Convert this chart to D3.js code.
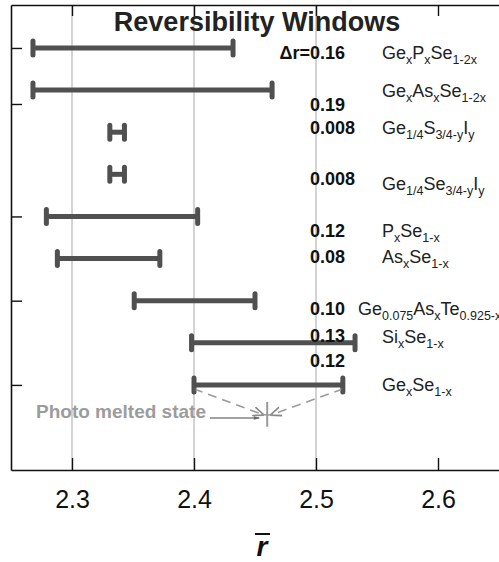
<!DOCTYPE html>
<html>
<head>
<meta charset="utf-8">
<script src="https://cdn.jsdelivr.net/npm/d3@7"></script>
<style>
  body { margin: 0; background: #fff; }
  svg { display: block; font-family: "Liberation Sans", Arial, sans-serif; }
</style>
</head>
<body>
<svg id="chart" width="499" height="562"></svg>
<script>
// reversibility windows, r-bar start / end for each glass system (top to bottom)
const systems = ["Ge_{x}P_{x}Se_{1-2x}", "Ge_{x}As_{x}Se_{1-2x}", "Ge_{1/4}S_{3/4-y}I_{y}",
  "Ge_{1/4}Se_{3/4-y}I_{y}", "P_{x}Se_{1-x}", "As_{x}Se_{1-x}",
  "Ge_{0.075}As_{x}Te_{0.925-x}", "Si_{x}Se_{1-x}", "Ge_{x}Se_{1-x}"];
const rStart = [2.268, 2.268, 2.331, 2.331, 2.279, 2.288, 2.351, 2.398, 2.400];
const rEnd   = [2.432, 2.464, 2.343, 2.343, 2.403, 2.372, 2.450, 2.532, 2.522];
const widths = ["0.16", "0.19", "0.008", "0.008", "0.12", "0.08", "0.10", "0.13", "0.12"];
const xTicks = [2.3, 2.4, 2.5, 2.6];
const gridVals = [2.3, 2.4, 2.5];
const yTicks = [0, 1.33, 4, 6, 8];
const photoMelted = 2.46;

// label placement (row units) - the original figure is hand-laid out
const numRow  = [0.26, 1.5, 2.04, 3.25, 4.49, 5.1, 6.34, 6.98, 7.57];
const formRow = [0.26, 1.16, 2.04, 3.37, 4.49, 5.1, 6.34, 7.0, 8.14];
const formX   = [382, 382, 382, 382, 382, 382, 358, 382, 382];

const svg = d3.select('#chart');
const W = 499, mLeft = 11, mTop = 5, mBottom = 470;

const x = d3.scaleLinear().domain([2.25, 2.65]).range([mLeft, W]);
const y = d3.scaleLinear().domain([-1.02, 10.02]).range([mTop, mBottom]);

// grid
svg.append('g').selectAll('line').data(gridVals).join('line')
  .attr('x1', d => x(d)).attr('x2', d => x(d))
  .attr('y1', mTop).attr('y2', mBottom)
  .attr('stroke', '#a8a8a8').attr('stroke-width', 1);

// axes
const gx = svg.append('g').attr('transform', `translate(0,${mBottom})`)
  .call(d3.axisBottom(x).tickValues(xTicks).tickSize(-12).tickSizeOuter(0).tickPadding(20).tickFormat(d3.format('.1f')));
gx.selectAll('text').attr('font-size', 25).attr('fill', '#111');
gx.attr('font-family', null);

const gt = svg.append('g').attr('transform', `translate(0,${mTop})`)
  .call(d3.axisTop(x).tickValues(xTicks).tickSize(-11).tickSizeOuter(0).tickFormat(''));

const gy = svg.append('g').attr('transform', `translate(${mLeft},0)`)
  .call(d3.axisLeft(y).tickValues(yTicks).tickSize(-11).tickSizeOuter(0).tickFormat(''));

[gx, gt, gy].forEach(g => {
  g.select('.domain').attr('stroke', '#111').attr('stroke-width', 1.6);
  g.selectAll('.tick line').attr('stroke', '#111').attr('stroke-width', 1.4);
});

// title
svg.append('text').attr('x', 257).attr('y', 31).attr('text-anchor', 'middle')
  .attr('font-size', 27).attr('font-weight', 'bold').attr('fill', '#222')
  .text('Reversibility Windows');

// window bars
const rows = d3.range(systems.length);
const bars = svg.append('g').attr('stroke', '#505050').attr('stroke-linecap', 'round');
bars.selectAll('line.bar').data(rows).join('line').attr('class', 'bar')
  .attr('x1', i => x(rStart[i])).attr('x2', i => x(rEnd[i]))
  .attr('y1', i => y(i)).attr('y2', i => y(i))
  .attr('stroke-width', 5).attr('stroke-linecap', 'butt');
bars.selectAll('line.capL').data(rows).join('line').attr('class', 'capL')
  .attr('x1', i => x(rStart[i])).attr('x2', i => x(rStart[i]))
  .attr('y1', i => y(i) - 7).attr('y2', i => y(i) + 7).attr('stroke-width', 5);
bars.selectAll('line.capR').data(rows).join('line').attr('class', 'capR')
  .attr('x1', i => x(rEnd[i])).attr('x2', i => x(rEnd[i]))
  .attr('y1', i => y(i) - 7).attr('y2', i => y(i) + 7).attr('stroke-width', 5);

// window widths
svg.append('g').selectAll('text').data(rows).join('text')
  .attr('x', 310).attr('y', i => y(numRow[i]))
  .attr('font-size', 18).attr('font-weight', 'bold').attr('fill', '#111')
  .text(i => widths[i]);
svg.append('text').attr('x', 310).attr('y', y(numRow[0])).attr('text-anchor', 'end')
  .attr('font-size', 18).attr('font-weight', 'bold').attr('fill', '#111').text('\u0394r=');

// formulas with subscripts
function parts(s) {
  const out = [];
  s.replace(/_\{([^}]*)\}|([^_]+)/g, (m, sub, main) => {
    out.push(sub !== undefined ? { t: sub, sub: true } : { t: main, sub: false });
  });
  return out;
}
svg.append('g').selectAll('text').data(rows).join('text')
  .attr('x', i => formX[i]).attr('y', i => y(formRow[i]))
  .attr('font-size', 18).attr('fill', '#222')
  .each(function(i) {
    const t = d3.select(this);
    let down = false;
    parts(systems[i]).forEach(p => {
      const ts = t.append('tspan').text(p.t);
      if (p.sub) { ts.attr('font-size', 12.5).attr('dy', down ? 0 : 5); down = true; }
      else { ts.attr('dy', down ? -5 : 0); down = false; }
    });
  });

// photo melted state
const defs = svg.append('defs');
defs.append('marker').attr('id', 'ah').attr('viewBox', '0 0 10 10')
  .attr('refX', 9).attr('refY', 5).attr('markerWidth', 7).attr('markerHeight', 7)
  .attr('orient', 'auto')
  .append('path').attr('d', 'M0,1 L10,5 L0,9').attr('fill', 'none').attr('stroke', '#888').attr('stroke-width', 1.5);
defs.append('marker').attr('id', 'ah2').attr('viewBox', '0 0 10 10')
  .attr('refX', 9).attr('refY', 5).attr('markerWidth', 8).attr('markerHeight', 6)
  .attr('orient', 'auto')
  .append('path').attr('d', 'M0,2 L10,5 L0,8 Z').attr('fill', '#666');

const pmRow = 8.71;
const g8 = systems.length - 1;
svg.append('g').selectAll('line').data([rStart[g8], rEnd[g8]]).join('line')
  .attr('x1', d => x(d)).attr('y1', y(g8) + 4)
  .attr('x2', d => x(photoMelted) + (d < photoMelted ? -4 : 4)).attr('y2', y(pmRow))
  .attr('stroke', '#9a9a9a').attr('stroke-width', 1.6).attr('stroke-dasharray', '9,6')
  .attr('marker-end', 'url(#ah)');
svg.append('g').selectAll('circle').data([rStart[g8], rEnd[g8]]).join('circle')
  .attr('cx', d => x(d)).attr('cy', y(g8) + 5).attr('r', 1.8).attr('fill', '#555');
svg.append('line').attr('x1', x(photoMelted)).attr('x2', x(photoMelted))
  .attr('y1', y(pmRow) - 13).attr('y2', y(pmRow) + 12)
  .attr('stroke', '#999').attr('stroke-width', 2);
svg.append('line').attr('x1', x(photoMelted) - 6).attr('x2', x(photoMelted) + 6)
  .attr('y1', y(pmRow)).attr('y2', y(pmRow))
  .attr('stroke', '#999').attr('stroke-width', 1.5);

svg.append('text').attr('x', 36).attr('y', 418)
  .attr('font-size', 19).attr('font-weight', 'bold').attr('fill', '#9c9c9c')
  .text('Photo melted state');
svg.append('line').attr('x1', 210).attr('y1', 418).attr('x2', x(photoMelted) - 8).attr('y2', 418)
  .attr('stroke', '#444').attr('stroke-width', 1).attr('marker-end', 'url(#ah2)');

// x axis title: r with overline
svg.append('text').attr('x', 262).attr('y', 556).attr('text-anchor', 'middle')
  .attr('font-size', 28).attr('font-weight', 'bold').attr('font-style', 'italic').attr('fill', '#111')
  .text('r');
svg.append('line').attr('x1', 255).attr('x2', 270).attr('y1', 534).attr('y2', 534)
  .attr('stroke', '#111').attr('stroke-width', 2);
</script>
</body>
</html>
